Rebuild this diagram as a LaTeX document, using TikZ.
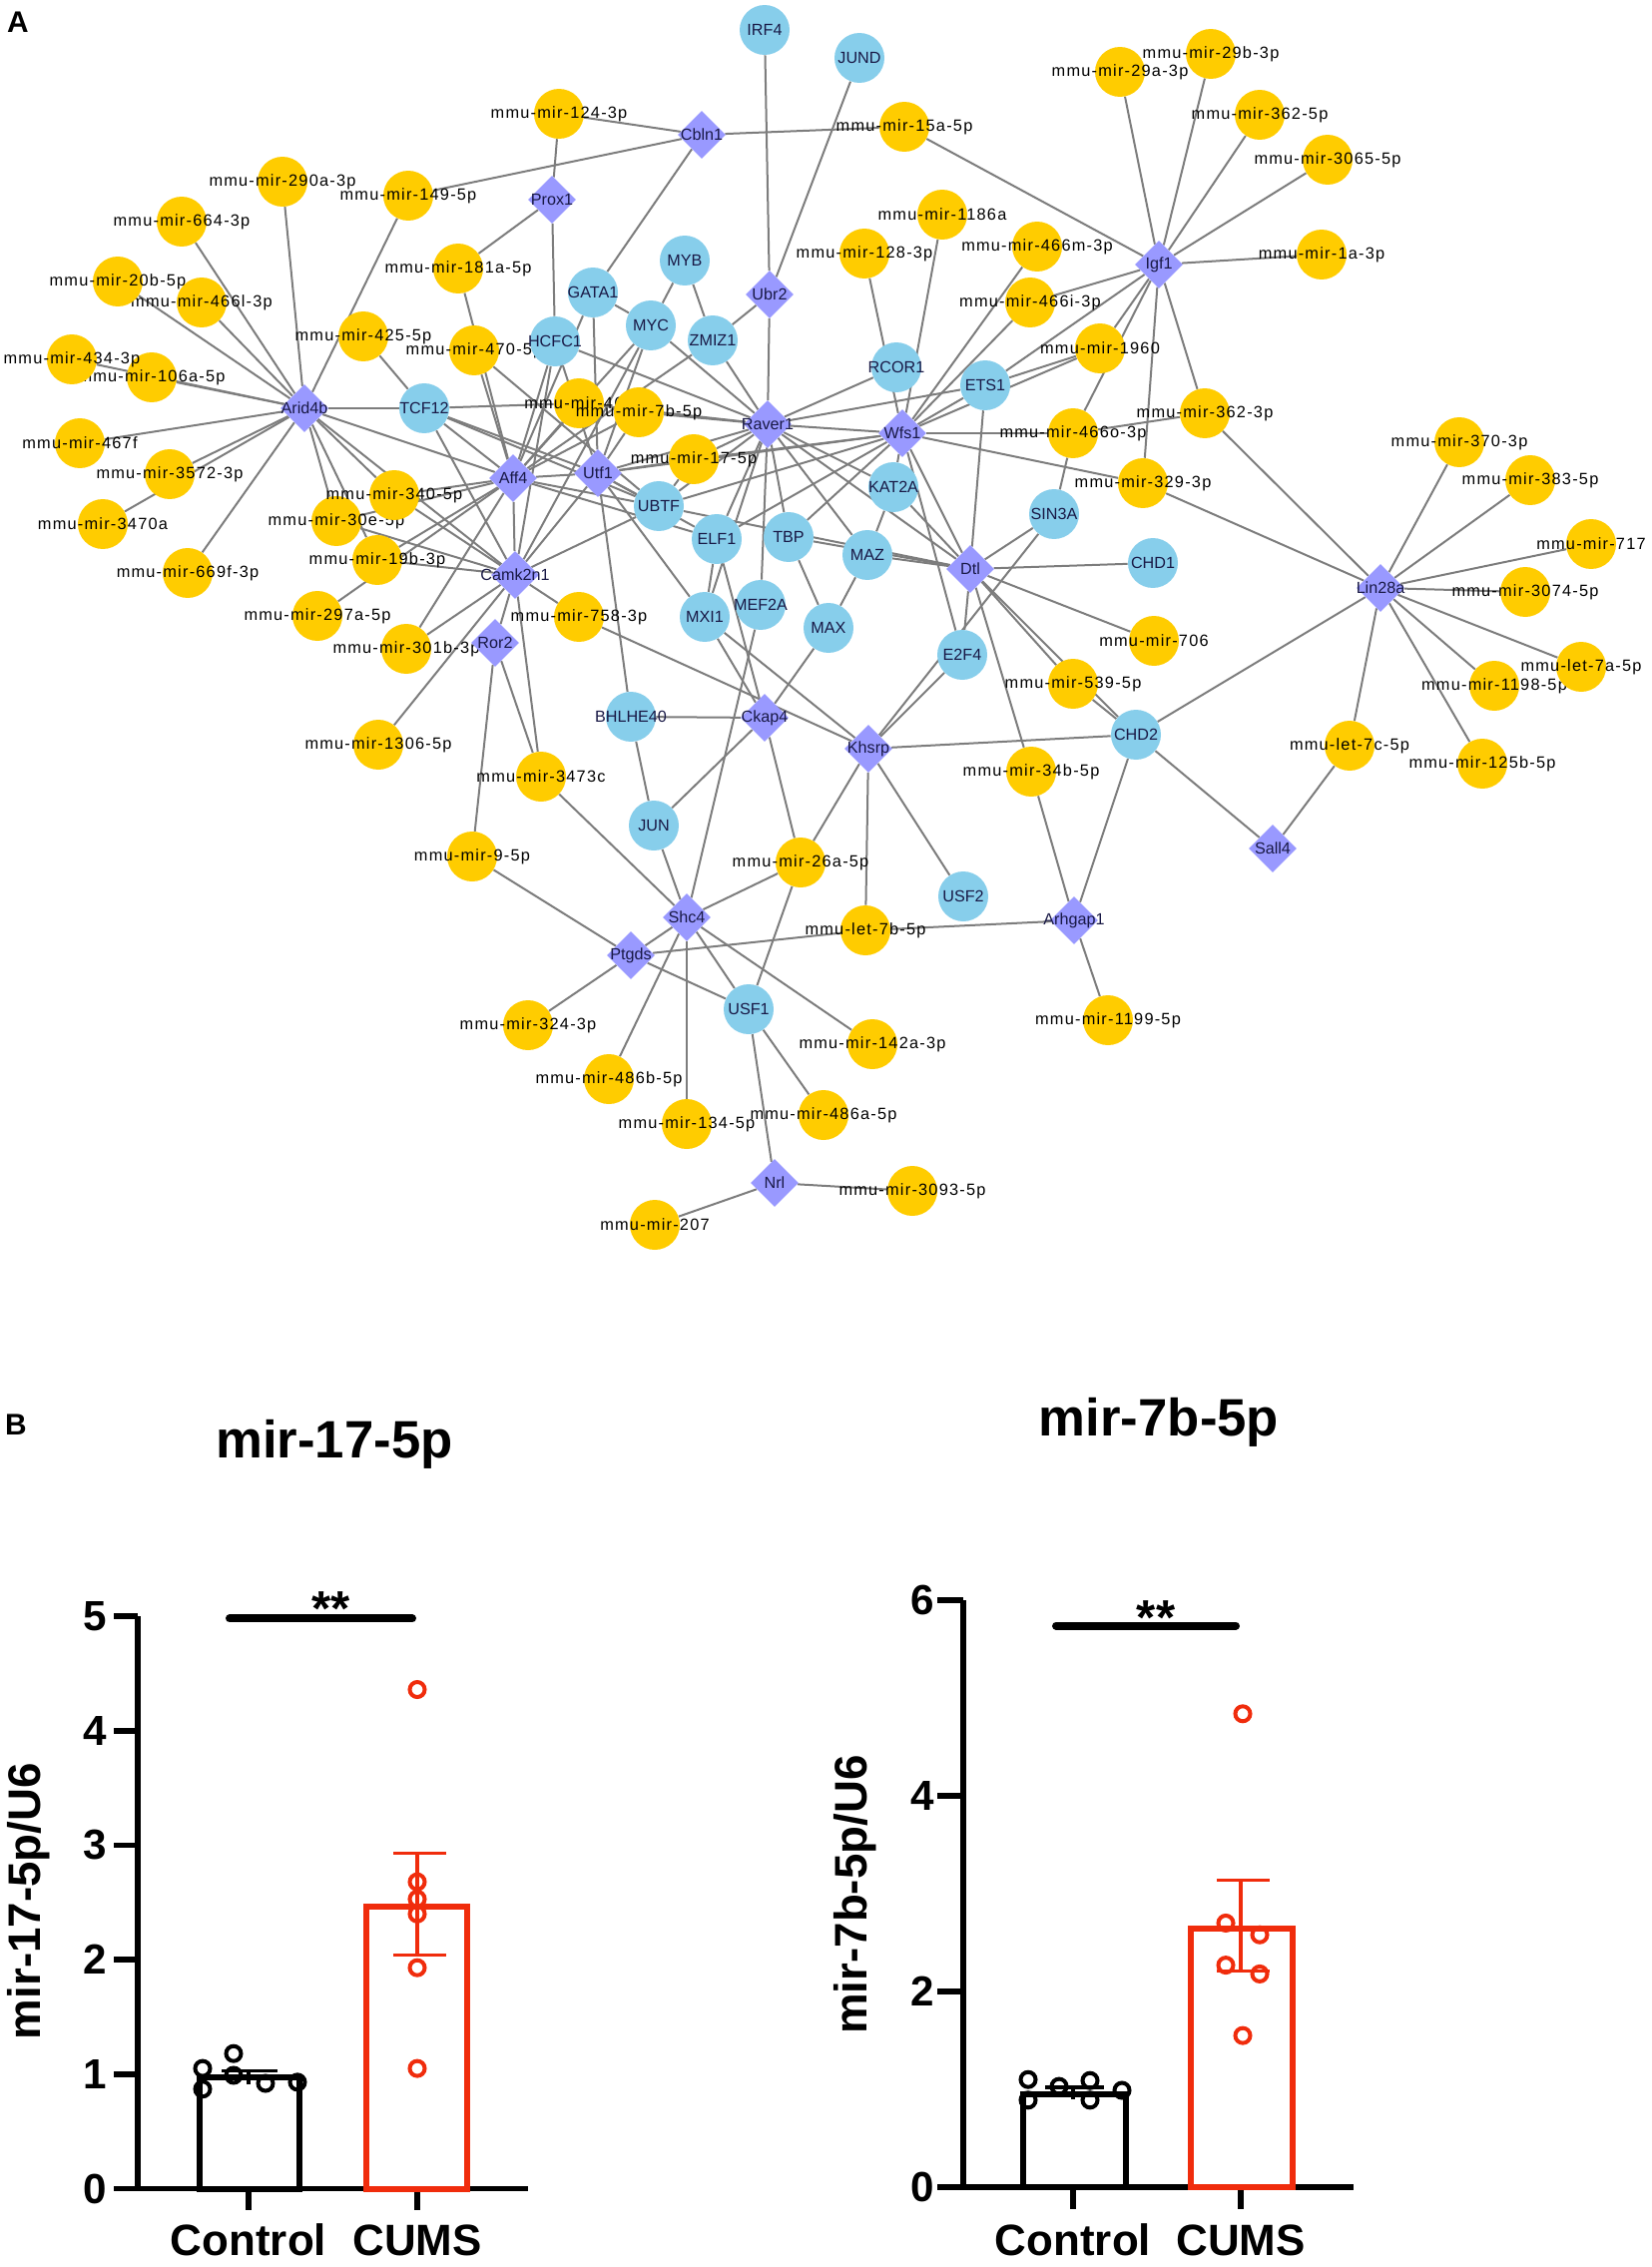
\documentclass[tikz,border=0pt]{standalone}
\usepackage{fontspec}
\setmainfont{Liberation Sans}
\newfontfamily\mirfont[LetterSpace=7.5]{Liberation Sans}
\usepackage{tikz}
\usetikzlibrary{shapes.geometric}

\definecolor{mirgold}{RGB}{255,204,0}
\definecolor{tfblue}{RGB}{135,206,235}
\definecolor{genelilac}{RGB}{153,153,255}
\definecolor{edgegray}{RGB}{125,125,125}
\definecolor{lblnavy}{RGB}{25,25,70}
\definecolor{cumsred}{RGB}{240,44,12}

\pgfdeclarelayer{edges}
\pgfsetlayers{edges,main}

\tikzset{
  net/.style={inner sep=0pt,
    execute at begin node={\hbox to 0pt\bgroup\hss},
    execute at end node={\hss\egroup}},
  mir/.style={net, circle, fill=mirgold, minimum size=1cm,
    font=\mirfont\fontsize{9.3}{11}\selectfont},
  tf/.style={net, circle, fill=tfblue, minimum size=1cm, text=lblnavy,
    font=\fontsize{9.2}{10}\selectfont},
  gene/.style={net, diamond, fill=genelilac, minimum size=0.96cm, text=lblnavy,
    font=\fontsize{9.2}{10}\selectfont},
  link/.style={draw=edgegray, line width=0.04cm},
  panel/.style={inner sep=0pt, font=\bfseries\fontsize{17}{20}\selectfont},
  axis/.style={line width=0.11cm},
  ticklbl/.style={inner sep=0pt, font=\bfseries\fontsize{24}{28}\selectfont},
  axlbl/.style={inner sep=0pt, font=\bfseries\fontsize{25}{30}\selectfont},
  ylbl/.style={inner sep=0pt, rotate=90, font=\bfseries\fontsize{26}{30}\selectfont},
  charttitle/.style={inner sep=0pt, font=\bfseries\fontsize{30}{34}\selectfont},
  stars/.style={inner sep=0pt, anchor=base, font=\bfseries\fontsize{28}{32}\selectfont},
  barbox/.style={line width=0.12cm},
  whisker/.style={line width=0.07cm},
  dot/.style={line width=0.08cm},
  sigbar/.style={line width=0.16cm, line cap=round}
}

\begin{document}
\begin{tikzpicture}[x=0.02cm, y=-0.02cm]
\useasboundingbox (0,0) rectangle (1655,2271);

\node[panel] (lblA) at (18,22) {A};
\node[panel] (lblB) at (16,1427) {B};

% miRNAs
\node[mir] (m124) at (560,114) {mmu-mir-124-3p};
\node[mir] (m15a) at (906,127) {mmu-mir-15a-5p};
\node[mir] (m29a) at (1122,72) {mmu-mir-29a-3p};
\node[mir] (m29b) at (1213,54) {mmu-mir-29b-3p};
\node[mir] (m362p5) at (1262,115) {mmu-mir-362-5p};
\node[mir] (m3065) at (1330,160) {mmu-mir-3065-5p};
\node[mir] (m1a) at (1324,255) {mmu-mir-1a-3p};
\node[mir] (m290a) at (283,182) {mmu-mir-290a-3p};
\node[mir] (m149) at (409,196) {mmu-mir-149-5p};
\node[mir] (m664) at (182,222) {mmu-mir-664-3p};
\node[mir] (m181a) at (459,269) {mmu-mir-181a-5p};
\node[mir] (m466l) at (202,303) {mmu-mir-466l-3p};
\node[mir] (m20b) at (118,282) {mmu-mir-20b-5p};
\node[mir] (m425) at (364,337) {mmu-mir-425-5p};
\node[mir] (m470) at (475,351) {mmu-mir-470-5p};
\node[mir] (m106a) at (152,378) {mmu-mir-106a-5p};
\node[mir] (m434) at (72,360) {mmu-mir-434-3p};
\node[mir] (m1186a) at (944,215) {mmu-mir-1186a};
\node[mir] (m128) at (866,254) {mmu-mir-128-3p};
\node[mir] (m466m) at (1039,247) {mmu-mir-466m-3p};
\node[mir] (m466i) at (1032,303) {mmu-mir-466i-3p};
\node[mir] (m1960) at (1102,349) {mmu-mir-1960};
\node[mir] (m466) at (580,404) {mmu-mir-466};
\node[mir] (m7b) at (640,413) {mmu-mir-7b-5p};
\node[mir] (m466o) at (1075,434) {mmu-mir-466o-3p};
\node[mir] (m362p3) at (1207,414) {mmu-mir-362-3p};
\node[mir] (m17) at (695,460) {mmu-mir-17-5p};
\node[mir] (m467f) at (80,444) {mmu-mir-467f};
\node[mir] (m3572) at (170,475) {mmu-mir-3572-3p};
\node[mir] (m30e) at (337,522) {mmu-mir-30e-5p};
\node[mir] (m340) at (395,496) {mmu-mir-340-5p};
\node[mir] (m3470a) at (103,525) {mmu-mir-3470a};
\node[mir] (m19b) at (378,561) {mmu-mir-19b-3p};
\node[mir] (m669f) at (188,574) {mmu-mir-669f-3p};
\node[mir] (m297a) at (318,617) {mmu-mir-297a-5p};
\node[mir] (m758) at (580,618) {mmu-mir-758-3p};
\node[mir] (m301b) at (407,650) {mmu-mir-301b-3p};
\node[mir] (m329) at (1145,484) {mmu-mir-329-3p};
\node[mir] (m370) at (1462,443) {mmu-mir-370-3p};
\node[mir] (m383) at (1533,481) {mmu-mir-383-5p};
\node[mir] (m717) at (1594,545) {mmu-mir-717};
\node[mir] (m3074) at (1528,593) {mmu-mir-3074-5p};
\node[mir] (m706) at (1156,642) {mmu-mir-706};
\node[mir] (m539) at (1075,685) {mmu-mir-539-5p};
\node[mir] (m1198) at (1497,687) {mmu-mir-1198-5p};
\node[mir] (let7a) at (1584,668) {mmu-let-7a-5p};
\node[mir] (let7c) at (1352,747) {mmu-let-7c-5p};
\node[mir] (m125b) at (1485,765) {mmu-mir-125b-5p};
\node[mir] (m1306) at (379,746) {mmu-mir-1306-5p};
\node[mir] (m3473c) at (542,778) {mmu-mir-3473c};
\node[mir] (m34b) at (1033,773) {mmu-mir-34b-5p};
\node[mir] (m9) at (473,858) {mmu-mir-9-5p};
\node[mir] (m26a) at (802,864) {mmu-mir-26a-5p};
\node[mir] (let7b) at (867,932) {mmu-let-7b-5p};
\node[mir] (m324) at (529,1027) {mmu-mir-324-3p};
\node[mir] (m1199) at (1110,1022) {mmu-mir-1199-5p};
\node[mir] (m142a) at (874,1046) {mmu-mir-142a-3p};
\node[mir] (m486b) at (610,1081) {mmu-mir-486b-5p};
\node[mir] (m134) at (688,1126) {mmu-mir-134-5p};
\node[mir] (m486a) at (825,1117) {mmu-mir-486a-5p};
\node[mir] (m3093) at (914,1193) {mmu-mir-3093-5p};
\node[mir] (m207) at (656,1227) {mmu-mir-207};

% transcription factors
\node[tf] (IRF4) at (766,30) {IRF4};
\node[tf] (JUND) at (861,58) {JUND};
\node[tf] (MYB) at (686,261) {MYB};
\node[tf] (GATA1) at (594,293) {GATA1};
\node[tf] (MYC) at (652,326) {MYC};
\node[tf] (ZMIZ1) at (714,341) {ZMIZ1};
\node[tf] (HCFC1) at (556,342) {HCFC1};
\node[tf] (TCF12) at (425,409) {TCF12};
\node[tf] (RCOR1) at (898,368) {RCOR1};
\node[tf] (ETS1) at (987,386) {ETS1};
\node[tf] (UBTF) at (660,507) {UBTF};
\node[tf] (KAT2A) at (895,488) {KAT2A};
\node[tf] (SIN3A) at (1056,515) {SIN3A};
\node[tf] (ELF1) at (718,540) {ELF1};
\node[tf] (TBP) at (790,538) {TBP};
\node[tf] (MAZ) at (869,556) {MAZ};
\node[tf] (CHD1) at (1155,564) {CHD1};
\node[tf] (MXI1) at (706,618) {MXI1};
\node[tf] (MEF2A) at (762,606) {MEF2A};
\node[tf] (MAX) at (830,629) {MAX};
\node[tf] (E2F4) at (964,656) {E2F4};
\node[tf] (BHLHE40) at (632,718) {BHLHE40};
\node[tf] (CHD2) at (1138,736) {CHD2};
\node[tf] (JUN) at (655,827) {JUN};
\node[tf] (USF2) at (965,898) {USF2};
\node[tf] (USF1) at (750,1011) {USF1};

% target genes
\node[gene] (Arid4b) at (305,409) {Arid4b};
\node[gene] (Prox1) at (553,200) {Prox1};
\node[gene] (Cbln1) at (703,135) {Cbln1};
\node[gene] (Ubr2) at (771,295) {Ubr2};
\node[gene] (Igf1) at (1161,265) {Igf1};
\node[gene] (Raver1) at (769,425) {Raver1};
\node[gene] (Wfs1) at (904,434) {Wfs1};
\node[gene] (Aff4) at (514,479) {Aff4};
\node[gene] (Utf1) at (599,474) {Utf1};
\node[gene] (Camk2n1) at (516,576) {Camk2n1};
\node[gene] (Ror2) at (496,644) {Ror2};
\node[gene] (Dtl) at (972,570) {Dtl};
\node[gene] (Lin28a) at (1383,589) {Lin28a};
\node[gene] (Ckap4) at (766,719) {Ckap4};
\node[gene] (Khsrp) at (870,750) {Khsrp};
\node[gene] (Sall4) at (1275,850) {Sall4};
\node[gene] (Shc4) at (688,919) {Shc4};
\node[gene] (Ptgds) at (632,957) {Ptgds};
\node[gene] (Arhgap1) at (1076,922) {Arhgap1};
\node[gene] (Nrl) at (776,1185) {Nrl};

\begin{pgfonlayer}{edges}
\path[link] (Arid4b) edge (m290a) edge (m149) edge (m664) edge (m466l) edge (m20b) edge (m434) edge (m106a) edge (m467f) edge (m3572) edge (m3470a) edge (m669f) edge (TCF12) edge (Aff4) edge (m340) edge (m30e) edge (m19b) edge (Camk2n1);
\path[link] (Prox1) edge (m124) edge (m181a) edge (HCFC1);
\path[link] (Cbln1) edge (m124) edge (m149) edge (m15a) edge (GATA1);
\path[link] (Ubr2) edge (IRF4) edge (JUND) edge (ZMIZ1) edge (Raver1);
\path[link] (Igf1) edge (m15a) edge (m29a) edge (m29b) edge (m362p5) edge (m3065) edge (m1a) edge (m466i) edge (ETS1) edge (m1960) edge (m466o) edge (m362p3) edge (m329);
\path[link] (TCF12) edge (m425) edge (m466) edge (Aff4) edge (UBTF) edge (Camk2n1);
\path[link] (Aff4) edge (m181a) edge (m470) edge (m340) edge (m19b) edge (m297a) edge (m30e) edge (m301b) edge (Camk2n1) edge (Utf1) edge (UBTF) edge (HCFC1) edge (GATA1) edge (MYC) edge (ZMIZ1) edge (m7b) edge (m466) edge (ELF1);
\path[link] (Utf1) edge (HCFC1) edge (GATA1) edge (MYC) edge (m7b) edge (m17) edge (Raver1) edge (Wfs1) edge (UBTF) edge (ELF1) edge (BHLHE40) edge (MXI1) edge (Camk2n1) edge (TCF12);
\path[link] (Camk2n1) edge (m340) edge (m30e) edge (m19b) edge (m301b) edge (m1306) edge (m758) edge (Ror2) edge (m3473c) edge (UBTF) edge (HCFC1) edge (MYC);
\path[link] (Ror2) edge (m9) edge (m3473c);
\path[link] (Raver1) edge (MYC) edge (ZMIZ1) edge (HCFC1) edge (m7b) edge (m466) edge (m17) edge (Wfs1) edge (RCOR1) edge (ETS1) edge (UBTF) edge (ELF1) edge (TBP) edge (MEF2A) edge (MAZ) edge (KAT2A) edge (Dtl) edge (MXI1);
\path[link] (Wfs1) edge (m128) edge (m1186a) edge (m466m) edge (m466i) edge (m1960) edge (ETS1) edge (m466o) edge (m329) edge (KAT2A) edge (Dtl) edge (E2F4) edge (UBTF) edge (TBP) edge (m17) edge (ELF1);
\path[link] (m466o) edge (m362p3) edge (SIN3A);
\path[link] (ETS1) edge (m1960) edge (Dtl);
\path[link] (Lin28a) edge (m362p3) edge (m329) edge (CHD2) edge (m370) edge (m383) edge (m717) edge (m3074) edge (let7a) edge (m1198) edge (m125b) edge (let7c);
\path[link] (Sall4) edge (let7c) edge (CHD2);
\path[link] (CHD2) edge (m539) edge (Khsrp) edge (Arhgap1) edge (Dtl);
\path[link] (Dtl) edge (CHD1) edge (MAZ) edge (TBP) edge (SIN3A) edge (E2F4) edge (m539) edge (m706) edge (m34b) edge (KAT2A) edge (UBTF);
\path[link] (Khsrp) edge (MXI1) edge (m758) edge (m26a) edge (USF2) edge (let7b) edge (E2F4) edge (SIN3A);
\path[link] (Ckap4) edge (BHLHE40) edge (MAX) edge (JUN) edge (MXI1) edge (ELF1) edge (m26a);
\path[link] (MAX) edge (TBP) edge (MAZ);
\path[link] (MAZ) edge (KAT2A);
\path[link] (ELF1) edge (MXI1);
\path[link] (MYB) edge (MYC) edge (ZMIZ1);
\path[link] (GATA1) edge (MYC);
\path[link] (UBTF) edge (m17) edge (m470);
\path[link] (BHLHE40) edge (JUN);
\path[link] (Shc4) edge (JUN) edge (MEF2A) edge (m3473c) edge (m26a) edge (Ptgds) edge (USF1) edge (m142a) edge (m134) edge (m486b);
\path[link] (Ptgds) edge (m9) edge (let7b) edge (USF1) edge (m324);
\path[link] (Arhgap1) edge (let7b) edge (m34b) edge (m1199);
\path[link] (USF1) edge (m26a) edge (m486a) edge (Nrl);
\path[link] (Nrl) edge (m207) edge (m3093);
\end{pgfonlayer}

% panel B, mir-17-5p
\begin{scope}[shift={(138,2192.5)}, x=0.02cm, y=2.294cm]
  \draw[axis] (0,5) -- (0,0) -- (391,0);
  \foreach \v in {0,...,5} {
    \draw[axis] (-24,\v) -- (0,\v);
    \node[ticklbl] at (-43,\v) {\v};
  }
  \draw[axis] (111,0) -- (111,-0.19);
  \draw[axis] (280,0) -- (280,-0.19);
  \draw[barbox] (62,0) rectangle (162,0.97);
  \draw[barbox, cumsred] (229,0) rectangle (330,2.46);
  \draw[whisker] (111,0.91) -- (111,1.03) (84,1.03) -- (140,1.03);
  \draw[whisker, cumsred] (280,2.04) -- (280,2.93) (256,2.93) -- (309,2.93) (256,2.04) -- (309,2.04);
  \foreach \px/\v in {65/1.05, 65/0.87, 96/1.18, 96/0.99, 128/0.92, 160/0.93}
    \draw[dot] (\px,\v) circle[radius=0.15cm];
  \foreach \v in {4.36, 2.68, 2.53, 2.40, 1.93, 1.05}
    \draw[dot, cumsred] (280,\v) circle[radius=0.15cm];
  \draw[sigbar] (92,4.98) -- (275,4.98);
  \node[stars] (starsL) at (194,4.92) {**};
  \node[charttitle] (ttlL) at (197,6.50) {mir-17-5p};
  \node[ylbl] (ylabL) at (-109,2.51) {mir-17-5p/U6};
  \node[axlbl] (ctlL) at (111,-0.45) {Control};
  \node[axlbl] (cumsL) at (280,-0.45) {CUMS};
\end{scope}

% panel B, mir-7b-5p
\begin{scope}[shift={(965,2191)}, x=0.02cm, y=1.96cm]
  \draw[axis] (0,6) -- (0,0) -- (391,0);
  \foreach \v in {0,2,4,6} {
    \draw[axis] (-26,\v) -- (0,\v);
    \node[ticklbl] at (-41,\v) {\v};
  }
  \draw[axis] (110,0) -- (110,-0.22);
  \draw[axis] (278,0) -- (278,-0.22);
  \draw[barbox] (60,0) rectangle (163,0.95);
  \draw[barbox, cumsred] (228,0) rectangle (330,2.64);
  \draw[whisker] (110,0.90) -- (110,1.02) (82,1.02) -- (141,1.02);
  \draw[whisker, cumsred] (278,2.21) -- (278,3.14) (254,3.14) -- (307,3.14) (254,2.21) -- (307,2.21);
  \foreach \px/\v in {65/1.10, 65/0.89, 96/1.03, 127/1.09, 127/0.89, 159/0.99}
    \draw[dot] (\px,\v) circle[radius=0.15cm];
  \foreach \px/\v in {280/4.84, 263/2.70, 297/2.58, 263/2.27, 297/2.18, 280/1.55}
    \draw[dot, cumsred] (\px,\v) circle[radius=0.15cm];
  \draw[sigbar] (93,5.74) -- (273,5.74);
  \node[stars] (starsR) at (193,5.65) {**};
  \node[charttitle] (ttlR) at (196,7.82) {mir-7b-5p};
  \node[ylbl] (ylabR) at (-108,2.99) {mir-7b-5p/U6};
  \node[axlbl] (ctlR) at (110,-0.54) {Control};
  \node[axlbl] (cumsR) at (278,-0.54) {CUMS};
\end{scope}
\end{tikzpicture}
\end{document}
